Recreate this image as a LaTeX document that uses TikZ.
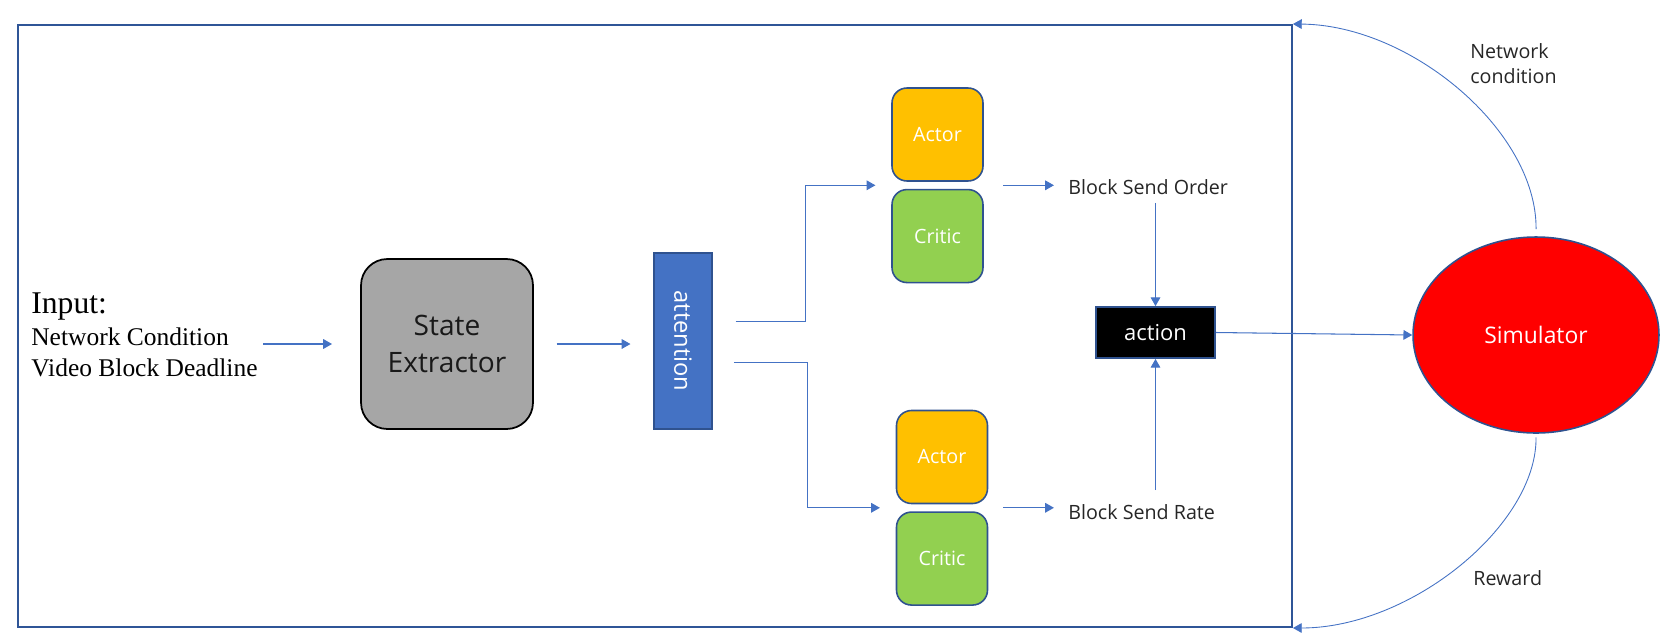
\documentclass[tikz,border=0pt]{standalone}
\usepackage{fontspec}
\setmainfont{Open Sans}
\newfontfamily\inputfont{Liberation Serif}
\usetikzlibrary{arrows.meta, shapes.geometric, positioning, calc}

\definecolor{frameblue}{RGB}{47,85,151}
\definecolor{arrowblue}{RGB}{68,114,196}
\definecolor{edgeblue}{RGB}{47,82,143}
\definecolor{actorfill}{RGB}{255,192,0}
\definecolor{criticfill}{RGB}{146,208,80}
\definecolor{statefill}{RGB}{166,166,166}

\begin{document}
\begin{tikzpicture}[
  x=0.02cm, y=-0.02cm,
  arr/.style={draw=arrowblue, line width=0.6pt, -{Triangle[length=5pt, width=5.5pt]}},
  lbl/.style={inner sep=0pt, text=black!85, font=\fontsize{11.2pt}{14.2pt}\selectfont},
  acbox/.style={draw=edgeblue, line width=0.9pt, rounded corners=8.5pt, minimum width=1.82cm,
    minimum height=1.86cm, text=white, font=\fontsize{11.2pt}{13pt}\selectfont},
  actor/.style={acbox, fill=actorfill},
  critic/.style={acbox, fill=criticfill}
]
\useasboundingbox (0,0) rectangle (1660,643);

\node[draw=frameblue, line width=1.2pt, minimum width=25.48cm, minimum height=12.04cm] (frame) at (655,326) {};

\node[anchor=north west, inner sep=0pt, align=left, font=\inputfont\fontsize{14.5pt}{17.6pt}\selectfont] (input) at (31,292)
  {{\fontsize{18pt}{18pt}\selectfont Input:}\\[1pt] Network Condition\\ Video Block Deadline};

\node[draw=black, line width=1pt, fill=statefill, rounded corners=15pt, minimum width=3.44cm, minimum height=3.40cm,
  align=center, text=black!90, font=\fontsize{16pt}{21.5pt}\selectfont] (se) at (447,344) {State\\Extractor};

\node[draw=edgeblue, fill=arrowblue, line width=0.8pt, minimum width=1.16cm, minimum height=3.52cm,
  text=white, font=\fontsize{13.5pt}{15pt}\selectfont] (att) at (683,341) {\rotatebox{-90}{attention}};

\node[actor] (actor1) at (937.5,134.5) {Actor};
\node[critic, below=0.14cm of actor1] (critic1) {Critic};
\node[actor] (actor2) at (942,457) {Actor};
\node[critic, below=0.14cm of actor2] (critic2) {Critic};

\coordinate (in1) at ($(actor1.south west)!0.5!(critic1.north west)$);
\coordinate (in2) at ($(actor2.south west)!0.5!(critic2.north west)$);
\coordinate (out1) at ($(actor1.south east)!0.5!(critic1.north east)$);
\coordinate (out2) at ($(actor2.south east)!0.5!(critic2.north east)$);

\node[lbl, anchor=west] (bso) at (1068,187) {Block Send Order};
\node[lbl, anchor=west] (bsr) at (1068,512) {Block Send Rate};

\node[draw=edgeblue, fill=black, line width=1pt, minimum width=2.38cm, minimum height=1.02cm,
  text=white, font=\fontsize{12.5pt}{15pt}\selectfont] (act) at (1155.5,332.5) {action};

\node[ellipse, draw=edgeblue, fill=red, line width=0.9pt, inner sep=0pt, minimum width=4.92cm, minimum height=3.92cm,
  text=white, font=\fontsize{13pt}{15pt}\selectfont] (sim) at (1536,335) {Simulator};

\node[lbl, anchor=north west, align=left] (netcond) at (1470,43) {Network\\condition};
\node[lbl, anchor=west] (reward) at (1473,578) {Reward};

\draw[arr, shorten <=3pt, shorten >=16pt] (input.east |- se.west) -- (se.west);
\draw[arr, shorten <=13pt, shorten >=13pt] (se.east) -- (att.west |- se.east);
\draw[arr, shorten <=13pt, shorten >=9pt] ([yshift=11pt]att.east) -| ([xshift=-49pt]in1) -- (in1);
\draw[arr, shorten <=12pt, shorten >=9pt] ([yshift=-12pt]att.east) -| ([xshift=-50pt]in2) -- (in2);
\draw[arr, shorten <=11pt, shorten >=8pt] (out1) -- (bso.west |- out1);
\draw[arr, shorten <=8.5pt, shorten >=8pt] (out2) -- (bsr.west |- out2);
\draw[arr, shorten <=4.5pt] (act.north |- bso.south) -- (act.north);
\draw[arr, shorten <=8pt] (act.south |- bsr.north) -- (act.south);
\draw[arr] (act.east) -- (sim.west);
\draw[arr, line width=0.5pt, shorten <=4pt] (sim.north) .. controls (1537,131) and (1411,25) .. (frame.north east);
\draw[arr, line width=0.5pt, shorten <=2pt] (sim.south) .. controls (1537,525) and (1411,628) .. (frame.south east);
\end{tikzpicture}
\end{document}
